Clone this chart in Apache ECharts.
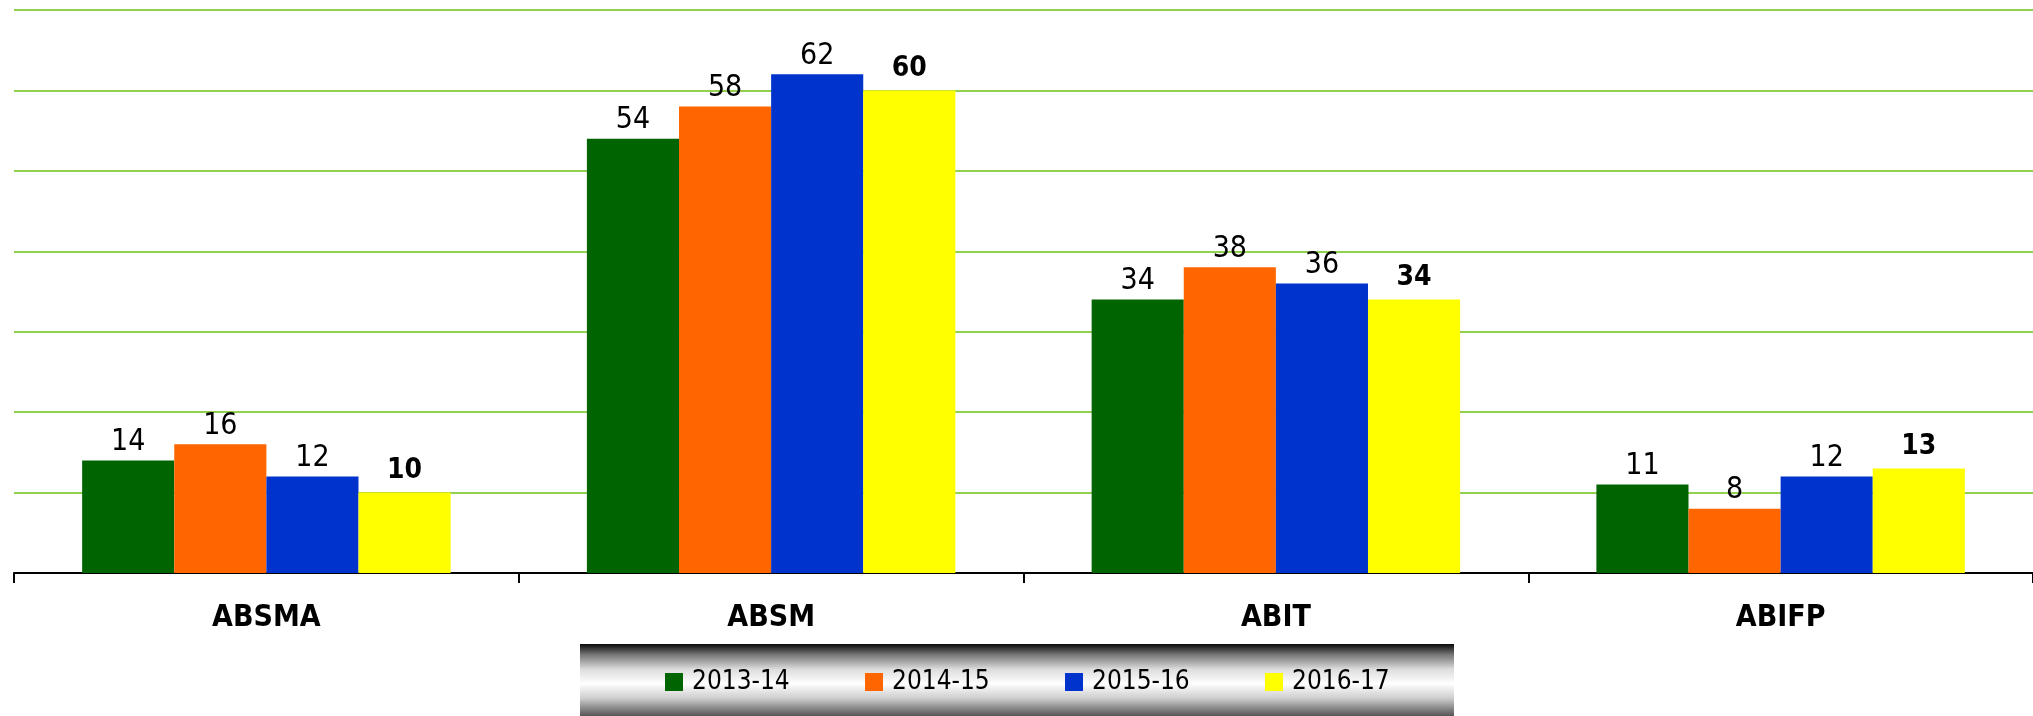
<!DOCTYPE html>
<html>
<head>
<meta charset="utf-8">
<style>
html,body{margin:0;padding:0;background:#fff;}
#main{width:2033px;height:716px;}
</style>
<script src="https://cdn.jsdelivr.net/npm/echarts@6/dist/echarts.min.js"></script>
</head>
<body>
<div id="main"></div>
<script>
var categories = ['ABSMA', 'ABSM', 'ABIT', 'ABIFP'];
var years = ['2013-14', '2014-15', '2015-16', '2016-17'];
var v1314 = [14, 54, 34, 11];
var v1415 = [16, 58, 38, 8];
var v1516 = [12, 62, 36, 12];
var v1617 = [10, 60, 34, 13];
var colors = ['#006400', '#ff6600', '#0033cc', '#ffff00'];

var font = '"DejaVu Sans Condensed", "DejaVu Sans", sans-serif';

var chart = echarts.init(document.getElementById('main'));

function makeSeries(name, data, color, bold) {
    return {
        name: name,
        type: 'bar',
        data: data,
        barGap: '0%',
        barCategoryGap: '27%',
        itemStyle: { color: color },
        label: {
            show: true,
            position: 'top',
            distance: bold ? 8 : 3,
            color: '#000',
            fontFamily: font,
            fontSize: bold ? 28 : 30,
            fontWeight: bold ? 'bold' : 'normal'
        }
    };
}

var option = {
    animation: false,
    backgroundColor: '#fff',
    color: colors,
    grid: {
        left: 14,
        top: 10,
        width: 2029,
        height: 563
    },
    graphic: [{
        type: 'rect',
        z: -1,
        shape: { x: 580, y: 644, width: 874, height: 72 },
        style: {
            fill: new echarts.graphic.LinearGradient(0, 0, 0, 1, [
                { offset: 0, color: '#0a0a0a' },
                { offset: 0.15, color: '#777' },
                { offset: 0.35, color: '#dcdcdc' },
                { offset: 0.55, color: '#fff' },
                { offset: 0.75, color: '#cfcfcf' },
                { offset: 1, color: '#555' }
            ])
        }
    }],
    legend: {
        data: years,
        left: 665,
        top: 666,
        padding: 0,
        itemGap: 0,
        itemWidth: 18,
        itemHeight: 18,
        icon: 'rect',
        textStyle: {
            fontFamily: font,
            fontSize: 26,
            color: '#000',
            lineHeight: 32,
            width: 173,
            padding: [0, 0, 0, 4]
        }
    },
    xAxis: {
        type: 'category',
        data: categories,
        axisLine: { show: true, lineStyle: { color: '#000', width: 2 } },
        axisTick: { show: true, length: 10, lineStyle: { color: '#000', width: 2 } },
        axisLabel: {
            margin: 30,
            color: '#000',
            fontFamily: font,
            fontSize: 30,
            fontWeight: 'bold'
        }
    },
    yAxis: {
        type: 'value',
        min: 0,
        max: 70,
        interval: 10,
        axisLine: { show: false },
        axisTick: { show: false },
        axisLabel: { show: false },
        splitLine: { lineStyle: { color: '#92d050', width: 2 } }
    },
    series: [
        makeSeries(years[0], v1314, colors[0], false),
        makeSeries(years[1], v1415, colors[1], false),
        makeSeries(years[2], v1516, colors[2], false),
        makeSeries(years[3], v1617, colors[3], true)
    ]
};

chart.setOption(option);
</script>
</body>
</html>
